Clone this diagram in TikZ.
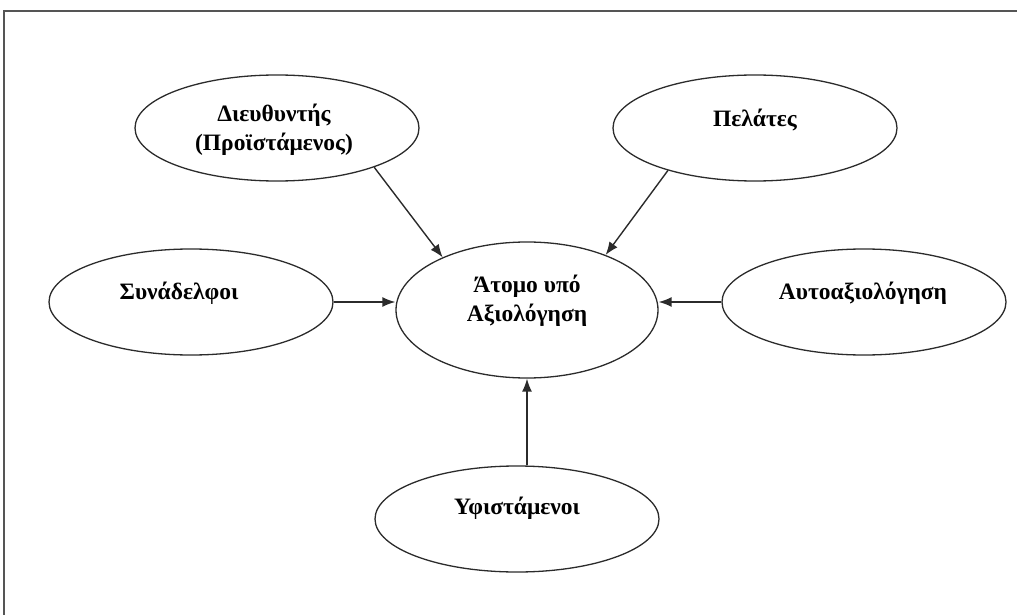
\documentclass[tikz,border=0pt]{standalone}
\usepackage{fontspec}
\setmainfont{Liberation Serif}
\usetikzlibrary{shapes.geometric,arrows.meta}

\definecolor{inkline}{HTML}{2B2B2B}
\definecolor{frameline}{HTML}{555555}

\tikzset{
  oval/.style={ellipse, draw=inkline, line width=1.3pt, inner sep=0pt,
               minimum width=284pt, minimum height=106pt},
  hub/.style={oval, minimum width=262pt, minimum height=136pt},
  caption/.style={font=\fontsize{23.5}{29}\selectfont\bfseries, text=black,
                  align=center, inner sep=0pt},
  feed/.style={draw=inkline, line width=1.4pt,
               -{Latex[length=13pt,width=10pt]}}
}

\begin{document}
\begin{tikzpicture}[x=1pt,y=-1pt]
  \useasboundingbox (0,0) rectangle (1017,615);

  % outer frame (left and top edges)
  \draw[frameline, line width=1.5pt] (4,615) -- (4,11) -- (1017,11);

  % ellipses
  \node[oval] (dir)   at (277,128) {};
  \node[oval] (pel)   at (755,128) {};
  \node[oval] (syn)   at (191,302) {};
  \node[oval] (auto)  at (864,302) {};
  \node[hub]  (atomo) at (527,310) {};
  \node[oval] (ypf)   at (517,519) {};

  % captions
  \node[caption] (dirT)   at (274,130) {Διευθυντής\\(Προϊστάμενος)};
  \node[caption] (pelT)   at (755,120) {Πελάτες};
  \node[caption] (synT)   at (179,293) {Συνάδελφοι};
  \node[caption] (autoT)  at (863,293) {Αυτοαξιολόγηση};
  \node[caption] (atomoT) at (527,301) {Άτομο υπό\\Αξιολόγηση};
  \node[caption] (ypfT)   at (517,508) {Υφιστάμενοι};

  % connectors
  \draw[feed] (dir.-22) -- (atomo.148);
  \draw[feed] (pel.-154) -- (atomo.35);
  \draw[feed] (syn.east) -- (atomo.west |- syn.east);
  \draw[feed] (auto.west) -- (atomo.east |- auto.west);
  \draw[feed] (atomo.south |- ypf.north) -- (atomo.south);
\end{tikzpicture}
\end{document}
